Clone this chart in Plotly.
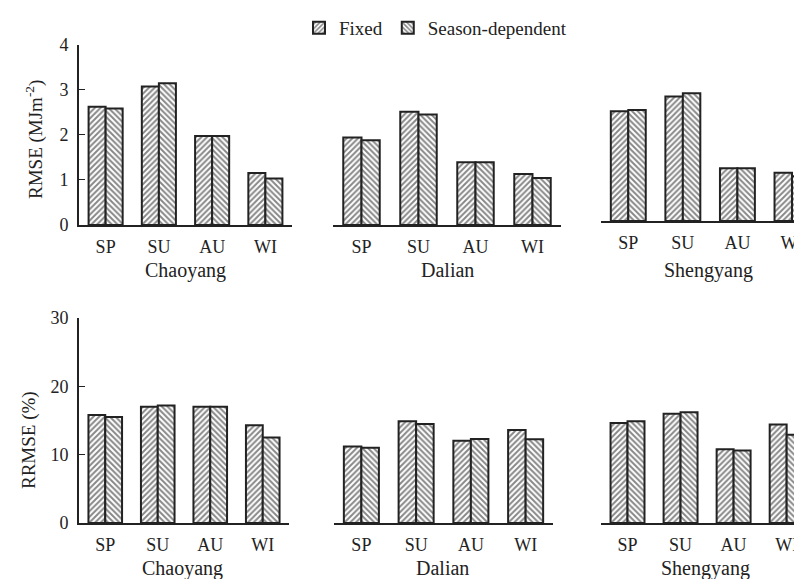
import plotly.graph_objects as go

seasons = ["SP", "SU", "AU", "WI"]
stations = ["Chaoyang", "Dalian", "Shengyang"]
series_names = ["Fixed", "Season-dependent"]

# RMSE (MJ m-2)
rmse_fixed_chaoyang = [2.62, 3.07, 1.97, 1.15]
rmse_season_chaoyang = [2.58, 3.14, 1.97, 1.03]
rmse_fixed_dalian = [1.94, 2.51, 1.39, 1.13]
rmse_season_dalian = [1.88, 2.45, 1.39, 1.04]
rmse_fixed_shengyang = [2.43, 2.76, 1.17, 1.07]
rmse_season_shengyang = [2.46, 2.83, 1.17, 0.99]

# RRMSE (%)
rrmse_fixed_chaoyang = [15.8, 17.0, 17.0, 14.3]
rrmse_season_chaoyang = [15.5, 17.2, 17.0, 12.5]
rrmse_fixed_dalian = [11.2, 14.9, 12.05, 13.6]
rrmse_season_dalian = [11.0, 14.5, 12.3, 12.25]
rrmse_fixed_shengyang = [14.65, 16.0, 10.8, 14.4]
rrmse_season_shengyang = [14.9, 16.2, 10.6, 12.9]

W, H = 802, 579
FONT = "Liberation Serif"
INK = "#222222"


def px(p):
    return p / W


def py(p):
    return 1 - p / H


top_fixed = [rmse_fixed_chaoyang, rmse_fixed_dalian, rmse_fixed_shengyang]
top_season = [rmse_season_chaoyang, rmse_season_dalian, rmse_season_shengyang]
bot_fixed = [rrmse_fixed_chaoyang, rrmse_fixed_dalian, rrmse_fixed_shengyang]
bot_season = [rrmse_season_chaoyang, rrmse_season_dalian, rrmse_season_shengyang]

# panel layout (pixels)
top_x = [(71, 284, 3.5), (325, 553, 3.5), (593, 802, 3.33)]
top_y = [(217, 36.5), (217, 36.5), (213, 32.5)]
bot_x = [(71, 281, 3.5), (326, 545, 3.5), (593, 802, 3.44)]
bot_y = [(515, 310), (515, 310), (515, 310)]

fig = go.Figure()
layout = {}


def add_panel(idx, xs, ys, fixed, season, yrange, show_y, show_leg, dtick):
    xa = "x" if idx == 1 else f"x{idx}"
    ya = "y" if idx == 1 else f"y{idx}"
    for name, vals, shape in [(series_names[0], fixed, "/"), (series_names[1], season, "\\")]:
        fig.add_trace(go.Bar(
            x=seasons, y=vals, name=name, xaxis=xa, yaxis=ya,
            legendgroup=name, showlegend=show_leg,
            marker=dict(color="white", line=dict(color=INK, width=2),
                        pattern=dict(shape=shape, fgcolor="#111111", bgcolor="white",
                                     size=4, solidity=0.5)),
        ))
    layout["xaxis" if idx == 1 else f"xaxis{idx}"] = dict(
        domain=[px(xs[0]), px(xs[1])], anchor=ya, range=[-0.5, xs[2]],
        showline=True, linecolor=INK, linewidth=1.6, ticks="outside", ticklen=5,
        tickcolor="rgba(0,0,0,0)", showgrid=False, zeroline=False, automargin=False,
        tickfont=dict(family=FONT, size=18, color=INK), fixedrange=True,
    )
    layout["yaxis" if idx == 1 else f"yaxis{idx}"] = dict(
        domain=[py(ys[0]), py(ys[1])], anchor=xa, range=yrange, dtick=dtick,
        visible=show_y, showline=True, linecolor=INK, linewidth=1.6,
        ticks="inside", ticklen=6, tickwidth=1.4, tickcolor=INK, automargin=False,
        ticklabelstandoff=5, showgrid=False, zeroline=False,
        tickfont=dict(family=FONT, size=18, color=INK), fixedrange=True,
    )


idx = 1
for i in range(3):
    add_panel(idx, top_x[i], top_y[i], top_fixed[i], top_season[i], [0, 4], i == 0, i == 0, 1)
    idx += 1
for i in range(3):
    add_panel(idx, bot_x[i], bot_y[i], bot_fixed[i], bot_season[i], [0, 30], i == 0, False, 10)
    idx += 1

annotations = []
top_cx = [177, 439, 700]
bot_cx = [174, 434, 697]
for i, st in enumerate(stations):
    annotations.append(dict(text=st, x=px(top_cx[i]), y=py(262), xref="paper", yref="paper",
                            showarrow=False, xanchor="center", yanchor="middle",
                            font=dict(family=FONT, size=20, color=INK)))
    annotations.append(dict(text=st, x=px(bot_cx[i]), y=py(560), xref="paper", yref="paper",
                            showarrow=False, xanchor="center", yanchor="middle",
                            font=dict(family=FONT, size=20, color=INK)))

annotations.append(dict(text="RMSE (MJm<sup>-2</sup>)", x=px(26), y=py(132), xref="paper", yref="paper",
                        showarrow=False, textangle=-90, xanchor="center", yanchor="middle",
                        font=dict(family=FONT, size=19, color=INK)))
annotations.append(dict(text="RRMSE (%)", x=px(21), y=py(432), xref="paper", yref="paper",
                        showarrow=False, textangle=-90, xanchor="center", yanchor="middle",
                        font=dict(family=FONT, size=19, color=INK)))

fig.update_layout(
    width=W, height=H,
    margin=dict(l=0, r=0, t=0, b=0, autoexpand=False),
    paper_bgcolor="white", plot_bgcolor="white",
    barmode="group", bargap=0.36, bargroupgap=0,
    showlegend=True,
    legend=dict(orientation="h", x=px(291), y=py(1), xanchor="left", yanchor="top",
                font=dict(family=FONT, size=19, color=INK), bgcolor="rgba(0,0,0,0)",
                itemwidth=30, tracegroupgap=0),
    annotations=annotations,
    **layout,
)

fig.write_html("out.html")
